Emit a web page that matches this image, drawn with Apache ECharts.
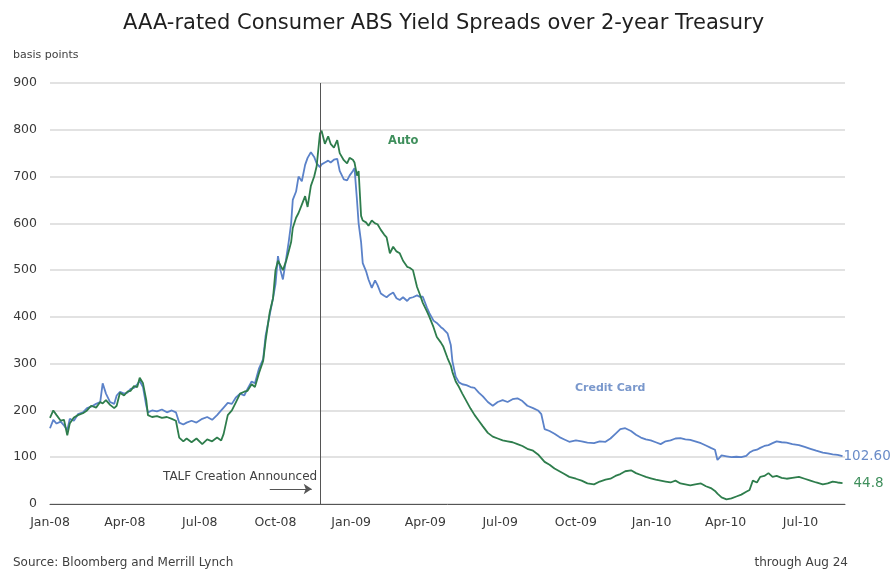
<!DOCTYPE html>
<html>
<head>
<meta charset="utf-8">
<script src="https://cdn.jsdelivr.net/npm/echarts@6/dist/echarts.min.js"></script>
<style>
  html, body { margin: 0; padding: 0; background: #ffffff; }
  #chart { width: 892px; height: 576px; }
</style>
</head>
<body>
<div id="chart"></div>
<script>
// Observation dates shared by both spread series
const dates = [
  '2008-01-01','2008-01-05','2008-01-09','2008-01-14','2008-01-18','2008-01-22','2008-01-25','2008-01-30',
  '2008-02-04','2008-02-10','2008-02-15','2008-02-20','2008-02-26','2008-03-02','2008-03-05','2008-03-09',
  '2008-03-14','2008-03-19','2008-03-22','2008-03-26','2008-03-31','2008-04-04','2008-04-08','2008-04-12',
  '2008-04-16','2008-04-19','2008-04-23','2008-04-27','2008-04-29','2008-05-04','2008-05-10','2008-05-16',
  '2008-05-22','2008-05-28','2008-06-02','2008-06-06','2008-06-11','2008-06-15','2008-06-21','2008-06-27',
  '2008-07-04','2008-07-10','2008-07-16','2008-07-22','2008-07-27','2008-07-30','2008-08-04','2008-08-09',
  '2008-08-14','2008-08-19','2008-08-24','2008-08-28','2008-09-02','2008-09-06','2008-09-11','2008-09-16',
  '2008-09-19','2008-09-24','2008-09-28','2008-10-01','2008-10-04','2008-10-07','2008-10-10','2008-10-14',
  '2008-10-17','2008-10-20','2008-10-22','2008-10-26','2008-10-29','2008-11-02','2008-11-06','2008-11-09',
  '2008-11-13','2008-11-17','2008-11-20','2008-11-24','2008-11-26','2008-11-30','2008-12-04','2008-12-07',
  '2008-12-11','2008-12-15','2008-12-18','2008-12-23','2008-12-27','2008-12-30','2009-01-03','2009-01-05',
  '2009-01-08','2009-01-10','2009-01-13','2009-01-15','2009-01-19','2009-01-22','2009-01-26','2009-01-30',
  '2009-02-02','2009-02-06','2009-02-10','2009-02-13','2009-02-17','2009-02-21','2009-02-25','2009-03-01',
  '2009-03-05','2009-03-10','2009-03-13','2009-03-17','2009-03-22','2009-03-25','2009-03-29','2009-04-03',
  '2009-04-06','2009-04-11','2009-04-15','2009-04-20','2009-04-23','2009-04-28','2009-05-02','2009-05-04',
  '2009-05-08','2009-05-12','2009-05-16','2009-05-21','2009-05-26','2009-05-31','2009-06-05','2009-06-10',
  '2009-06-16','2009-06-22','2009-06-28','2009-07-04','2009-07-10','2009-07-16','2009-07-22','2009-07-28',
  '2009-08-03','2009-08-10','2009-08-16','2009-08-20','2009-08-24','2009-08-30','2009-09-05','2009-09-11',
  '2009-09-17','2009-09-23','2009-10-01','2009-10-08','2009-10-15','2009-10-23','2009-10-30','2009-11-06',
  '2009-11-12','2009-11-18','2009-11-24','2009-11-30','2009-12-07','2009-12-13','2009-12-19','2009-12-25',
  '2009-12-31','2010-01-06','2010-01-12','2010-01-18','2010-01-24','2010-01-30','2010-02-05','2010-02-11',
  '2010-02-17','2010-02-23','2010-03-02','2010-03-08','2010-03-14','2010-03-19','2010-03-22','2010-03-27',
  '2010-04-02','2010-04-08','2010-04-14','2010-04-20','2010-04-26','2010-04-30','2010-05-04','2010-05-09',
  '2010-05-13','2010-05-18','2010-05-23','2010-05-28','2010-06-02','2010-06-08','2010-06-14','2010-06-21',
  '2010-06-29','2010-07-06','2010-07-13','2010-07-20','2010-07-28','2010-08-03','2010-08-09','2010-08-15',
  '2010-08-21'
];

// Credit card ABS spread, basis points
const cardSpread = [
  162,180,172,176,168,158,182,178,
  192,196,205,208,214,218,258,236,
  218,214,232,240,236,238,246,248,
  256,263,250,210,196,200,198,202,
  196,200,196,174,170,174,178,174,
  182,186,180,190,200,206,216,214,
  228,236,232,246,262,258,290,310,
  360,405,440,470,530,500,480,525,
  560,600,650,668,700,690,725,740,
  752,742,728,720,726,730,734,730,
  736,738,712,694,692,702,712,718,
  650,600,560,515,498,480,462,478,
  468,450,445,442,448,452,440,436,
  442,434,440,442,446,443,443,420,
  408,392,387,378,374,365,340,305,
  272,260,256,254,250,248,238,230,
  218,210,218,222,218,224,226,220,
  210,205,200,192,160,156,150,143,
  138,133,136,134,131,130,134,133,
  140,150,160,162,156,148,142,138,
  136,132,128,134,136,140,141,138,
  137,134,130,125,120,116,94,104,
  102,100,101,100,103,110,114,116,
  120,124,126,130,134,132,131,128,
  126,122,118,114,110,108,106,105,
  102.6
];

// Auto ABS spread, basis points
const autoSpread = [
  184,200,190,178,180,147,172,185,
  190,194,200,210,206,218,215,222,
  212,205,210,238,232,240,242,252,
  250,270,258,222,190,186,188,184,
  186,182,178,142,134,140,132,140,
  128,138,134,142,136,150,190,200,
  218,236,240,242,256,250,280,306,
  350,410,440,500,520,510,500,520,
  540,560,590,612,622,640,658,635,
  680,700,722,792,798,770,786,770,
  762,778,750,735,728,740,736,730,
  702,712,616,606,602,595,606,600,
  598,586,576,570,536,550,540,536,
  520,507,505,500,464,450,430,412,
  400,378,357,345,336,312,296,282,
  262,250,236,220,204,190,178,166,
  152,144,140,136,134,132,128,124,
  118,114,106,98,90,84,76,70,
  64,58,54,50,44,42,48,52,
  54,60,64,70,72,66,62,58,
  55,52,50,48,46,50,44,42,
  40,42,44,38,34,28,22,14,
  10,12,16,20,26,30,50,46,
  58,60,66,58,60,56,54,56,
  58,54,50,46,42,44,48,46,
  44.8
];

// Quarter starts used as x-axis tick labels
const quarterTicks = [
  '2008-01-01','2008-04-01','2008-07-01','2008-10-01','2009-01-01','2009-04-01',
  '2009-07-01','2009-10-01','2010-01-01','2010-04-01','2010-07-01'
];
const monthNames = ['Jan','Feb','Mar','Apr','May','Jun','Jul','Aug','Sep','Oct','Nov','Dec'];

// Axis range, TALF announcement date and arrow span
const startDate = '2008-01-01';
const endDate = '2010-08-24';
const talfDate = '2008-11-24';
const arrowSpan = ['2008-09-24', '2008-11-14'];
const arrowLevel = 32;

const FONT = 'DejaVu Sans';
const BLUE = '#5b82c9';
const GREEN = '#2e7d4c';

const ts = s => Date.UTC(+s.slice(0, 4), +s.slice(5, 7) - 1, +s.slice(8, 10));

const chart = echarts.init(document.getElementById('chart'), null, { renderer: 'canvas' });

const cardData = dates.map((d, i) => [ts(d), cardSpread[i]]);
const autoData = dates.map((d, i) => [ts(d), autoSpread[i]]);

chart.setOption({
  backgroundColor: '#ffffff',
  animation: false,
  title: {
    text: 'AAA-rated Consumer ABS Yield Spreads over 2-year Treasury',
    left: 118,
    top: 8,
    textStyle: { fontFamily: FONT, fontSize: 21, fontWeight: 'normal', color: '#1f1f1f' }
  },
  grid: { left: 50, right: 47, top: 83, bottom: 72 },
  xAxis: {
    type: 'value',
    min: ts(startDate),
    max: ts(endDate),
    axisLine: { show: true, lineStyle: { color: '#555555', width: 1 } },
    axisTick: { show: false },
    splitLine: { show: false },
    axisLabel: {
      customValues: quarterTicks.map(ts),
      formatter: function (v) {
        const d = new Date(v);
        return monthNames[d.getUTCMonth()] + '-' + String(d.getUTCFullYear()).slice(2);
      },
      margin: 12,
      fontFamily: FONT,
      fontSize: 12.5,
      color: '#3a3a3a'
    }
  },
  yAxis: {
    type: 'value',
    min: 0,
    max: 900,
    interval: 100,
    name: 'basis points',
    nameLocation: 'end',
    nameGap: 22,
    nameTextStyle: { fontFamily: FONT, fontSize: 11, color: '#404040', align: 'left', padding: [0, 0, 0, -37] },
    axisLine: { show: false },
    axisTick: { show: false },
    splitLine: { lineStyle: { color: '#d9d9d9', width: 1.5 } },
    axisLabel: { margin: 13, fontFamily: FONT, fontSize: 12.5, color: '#3a3a3a' }
  },
  series: [
    {
      name: 'Credit Card',
      type: 'line',
      data: cardData,
      showSymbol: false,
      lineStyle: { color: BLUE, width: 1.8 },
      itemStyle: { color: BLUE },
      z: 3,
      endLabel: {
        show: true,
        distance: 1,
        formatter: p => p.value[1].toFixed(2),
        fontFamily: FONT,
        fontSize: 13.5,
        color: '#6a8cc8'
      },
      markLine: {
        silent: true,
        symbol: 'none',
        label: { show: false },
        lineStyle: { color: '#555555', width: 1, type: 'solid' },
        data: [{ xAxis: ts(talfDate) }]
      }
    },
    {
      name: 'Auto',
      type: 'line',
      data: autoData,
      showSymbol: false,
      lineStyle: { color: GREEN, width: 1.8 },
      itemStyle: { color: GREEN },
      z: 4,
      endLabel: {
        show: true,
        distance: 11,
        formatter: p => p.value[1].toFixed(1),
        fontFamily: FONT,
        fontSize: 13.5,
        color: '#3f8f5c'
      },
      markLine: {
        silent: true,
        symbol: ['none', 'arrow'],
        symbolSize: 8,
        label: { show: false },
        lineStyle: { color: '#555555', width: 1, type: 'solid' },
        data: [[
          { coord: [ts(arrowSpan[0]), arrowLevel] },
          { coord: [ts(arrowSpan[1]), arrowLevel] }
        ]]
      }
    }
  ],
  graphic: [
    { type: 'text', left: 388, top: 135,
      style: { text: 'Auto', fontFamily: FONT, fontSize: 11.5, fontWeight: 'bold', fill: '#3f8f5c' } },
    { type: 'text', left: 575, top: 383,
      style: { text: 'Credit Card', fontFamily: FONT, fontSize: 11, fontWeight: 'bold', fill: '#7a98cc' } },
    { type: 'text', left: 163, top: 471,
      style: { text: 'TALF Creation Announced', fontFamily: FONT, fontSize: 12, fill: '#404040' } },
    { type: 'text', left: 13, top: 557,
      style: { text: 'Source: Bloomberg and Merrill Lynch', fontFamily: FONT, fontSize: 12, fill: '#404040' } },
    { type: 'text', right: 44, top: 557,
      style: { text: 'through Aug 24', fontFamily: FONT, fontSize: 12, fill: '#404040' } }
  ]
});
</script>
</body>
</html>
